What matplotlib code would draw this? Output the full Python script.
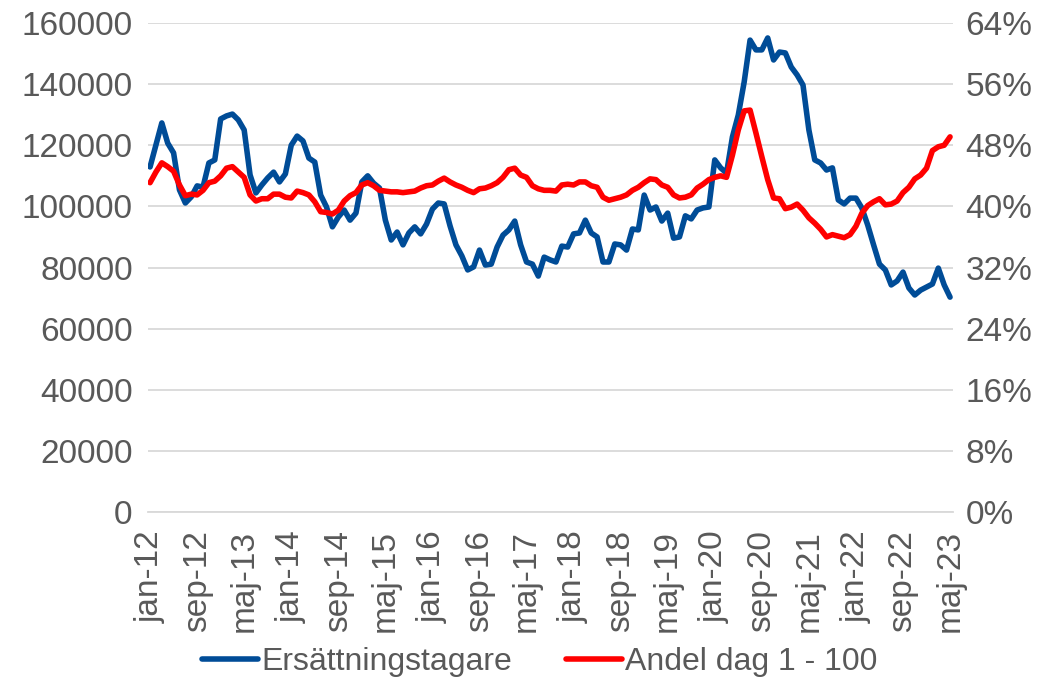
import matplotlib
matplotlib.use('Agg')
import matplotlib.pyplot as plt
from matplotlib.ticker import FuncFormatter

plt.rcParams['font.family'] = ['Liberation Sans', 'DejaVu Sans']

# monthly data jan-12 .. maj-23
month_names = ['jan', 'feb', 'mar', 'apr', 'maj', 'jun',
               'jul', 'aug', 'sep', 'okt', 'nov', 'dec']
start_year = 2012

ersattningstagare = [
    112900, 120100, 127300, 120700, 117500, 105400, 101100, 103100, 106700, 106300,
    114200, 115200, 128600, 129600, 130200, 128300, 125000, 110300, 104400, 107000,
    109300, 111200, 108000, 110600, 120000, 123000, 121400, 115800, 114500, 103700,
    99800, 93300, 96500, 98800, 95500, 97800, 108000, 110000, 107600, 106000,
    95500, 89000, 91600, 87400, 91300, 93300, 91000, 94200, 99100, 101100,
    100800, 93600, 87400, 83800, 79200, 80200, 85700, 80800, 81100, 86700,
    90600, 92300, 95200, 87400, 81800, 81100, 77200, 83400, 82500, 81800,
    87000, 86700, 91000, 91300, 95500, 91300, 90000, 81800, 81800, 87700,
    87400, 85700, 92600, 92300, 103700, 98800, 99800, 95200, 97800, 89600,
    90000, 96900, 95900, 98800, 99500, 99800, 115200, 112600, 110900, 122700,
    129900, 140700, 154400, 151200, 151200, 155100, 147900, 150500, 150200, 145600,
    143000, 139700, 125000, 115200, 114200, 111900, 112600, 102100, 100800, 102700,
    102700, 99500, 93900, 87400, 81100, 79200, 74300, 75600, 78500, 73300,
    71000, 72600, 73600, 74600, 79800, 74300, 70300,
]

andel_dag_1_100 = [
    43.1, 44.5, 45.7, 45.2, 44.6, 42.8, 41.4, 41.6, 41.5, 42.1,
    43.1, 43.3, 44.0, 45.0, 45.2, 44.5, 43.8, 41.5, 40.7, 41.0,
    41.0, 41.6, 41.6, 41.2, 41.1, 42.0, 41.8, 41.5, 40.6, 39.3,
    39.2, 39.0, 39.5, 40.7, 41.4, 41.8, 42.8, 43.1, 42.7, 42.1,
    42.0, 41.9, 41.9, 41.8, 41.9, 42.0, 42.4, 42.7, 42.8, 43.3,
    43.7, 43.2, 42.8, 42.5, 42.1, 41.8, 42.3, 42.4, 42.7, 43.1,
    43.8, 44.8, 45.0, 44.1, 43.8, 42.7, 42.3, 42.1, 42.1, 42.0,
    42.8, 42.9, 42.8, 43.2, 43.2, 42.7, 42.5, 41.2, 40.8, 41.0,
    41.2, 41.5, 42.1, 42.5, 43.1, 43.6, 43.5, 42.8, 42.5, 41.5,
    41.1, 41.2, 41.5, 42.4, 42.9, 43.5, 43.8, 44.0, 43.8, 46.7,
    50.0, 52.5, 52.6, 49.6, 46.5, 43.5, 41.1, 41.0, 39.7, 39.9,
    40.3, 39.5, 38.5, 37.8, 37.0, 36.0, 36.3, 36.1, 35.9, 36.3,
    37.4, 39.1, 40.1, 40.6, 41.0, 40.2, 40.3, 40.7, 41.8, 42.5,
    43.6, 44.1, 45.0, 47.3, 47.8, 48.0, 49.1,
]

months = list(range(len(ersattningstagare)))
labels = [f"{month_names[m % 12]}-{(start_year + m // 12) % 100:02d}" for m in months]

blue = '#004C97'
red = '#FF0000'
grey = '#595959'

fig = plt.figure(figsize=(10.49, 6.88), dpi=100)
ax = fig.add_axes([148 / 1049, 1 - 512 / 688, (953 - 148) / 1049, (512 - 23) / 688])
ax2 = ax.twinx()

l1, = ax.plot(months, ersattningstagare, color=blue, lw=4.0, solid_joinstyle='round',
              solid_capstyle='round', label='Ersättningstagare', zorder=3)
l2, = ax2.plot(months, andel_dag_1_100, color=red, lw=4.0, solid_joinstyle='round',
               solid_capstyle='round', label='Andel dag 1 - 100', zorder=3)

ax.set_ylim(0, 160000)
ax.set_yticks(range(0, 160001, 20000))
ax2.set_ylim(0, 64)
ax2.set_yticks(range(0, 65, 8))
ax2.yaxis.set_major_formatter(FuncFormatter(lambda v, p: f"{v:.0f}%"))

ax.set_xlim(-0.35, len(months) - 0.5)
ax.set_xticks(months[::8])
ax.set_xticklabels(labels[::8], rotation=90)

ax.grid(axis='y', color='#D9D9D9', lw=1.3)
ax.set_axisbelow(True)

for a in (ax, ax2):
    for s in a.spines.values():
        s.set_visible(False)
ax.spines['bottom'].set_visible(True)
ax.spines['bottom'].set_color('#D9D9D9')
ax.spines['bottom'].set_linewidth(1.3)

ax.tick_params(axis='y', length=0, pad=11, labelsize=24, labelcolor=grey)
ax.tick_params(axis='x', length=0, pad=13, labelsize=24, labelcolor=grey)
ax2.tick_params(axis='y', length=0, pad=9, labelsize=24, labelcolor=grey)

fig.legend(handles=[l1, l2], loc='center', bbox_to_anchor=(540 / 1049, 1 - 662 / 688),
           ncol=2, frameon=False, fontsize=23, labelcolor=grey, handlelength=1.75,
           handletextpad=0.1, columnspacing=1.7)

fig.savefig('out.png', dpi=100)
